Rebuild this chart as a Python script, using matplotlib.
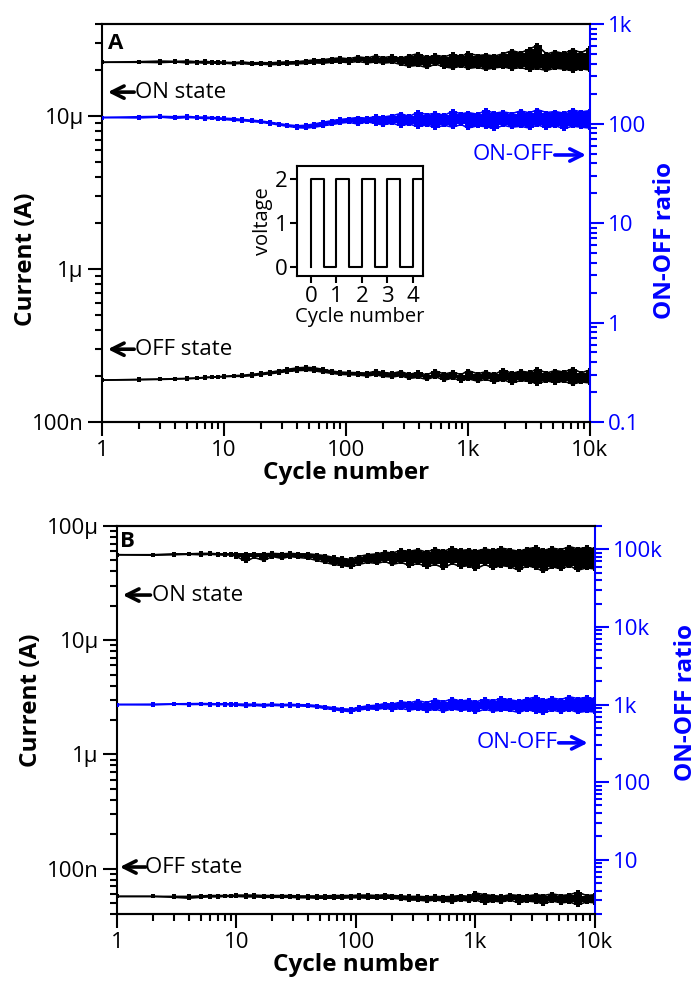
import numpy as np
import matplotlib
matplotlib.use('Agg')
import matplotlib.pyplot as plt
from matplotlib.ticker import FixedLocator, LogLocator, NullFormatter

plt.rcParams['font.family'] = ['Open Sans', 'DejaVu Sans']

BLUE = '#0000ff'

cycles = [1, 2, 3, 4, 5, 6, 7, 8, 9, 10, 12, 14, 17, 20, 24, 28, 33, 40, 47, 55,
          65, 77, 90, 105, 125, 150, 175, 200, 240, 280, 330, 390, 460, 540, 640,
          750, 880, 1000, 1200, 1400, 1650, 1950, 2300, 2700, 3200, 3700, 4400,
          5200, 6100, 7200, 8500, 10000]

# panel A: ON current (uA), lower / upper edge of the noisy trace
a_on_lo = [22.5, 22.5, 22.4, 22.6, 22.3, 22.4, 22.2, 22.3, 22.1, 22.2, 22.0, 22.1,
           21.8, 21.9, 21.7, 21.8, 21.9, 22.0, 22.1, 22.3, 22.2, 22.5, 22.6, 22.4,
           22.8, 22.3, 22.6, 22.2, 22.5, 21.8, 21.2, 21.5, 20.8, 21.9, 21.0, 20.6,
           21.3, 20.5, 20.9, 20.2, 20.7, 21.0, 20.4, 20.8, 20.1, 20.5, 19.9, 20.6,
           20.3, 19.8, 20.4, 20.0]
a_on_hi = [22.5, 22.7, 22.9, 22.8, 22.9, 22.7, 22.8, 22.6, 22.7, 22.5, 22.4, 22.6,
           22.3, 22.4, 22.3, 22.5, 22.6, 22.7, 23.0, 23.3, 23.4, 23.8, 24.0, 23.7,
           24.4, 24.0, 24.8, 24.1, 24.6, 23.9, 24.8, 25.6, 24.2, 25.0, 24.5, 25.3,
           24.6, 25.8, 24.9, 25.2, 24.7, 25.6, 26.8, 25.9, 27.5, 29.0, 25.5, 26.4,
           25.7, 27.2, 26.0, 27.8]
# panel A: OFF current (nA)
a_off_lo = [188, 189, 190, 191, 192, 193, 195, 196, 197, 198, 199, 199, 201, 204,
            207, 210, 214, 217, 218, 216, 212, 208, 205, 204, 203, 200, 204, 199,
            197, 201, 193, 196, 190, 198, 188, 194, 186, 192, 185, 190, 183, 189,
            180, 187, 184, 178, 186, 181, 185, 177, 183, 180]
a_off_hi = [188, 190, 191, 192, 193, 194, 196, 197, 198, 199, 201, 202, 205, 208,
            212, 216, 221, 226, 228, 226, 221, 215, 212, 211, 210, 209, 215, 211,
            208, 214, 205, 211, 203, 216, 206, 212, 204, 217, 207, 213, 205, 219,
            208, 215, 211, 222, 209, 217, 212, 223, 210, 219]
# panel A: ON-OFF ratio
a_ratio_lo = [115, 114, 116, 113, 115, 114, 112, 113, 111, 110, 108, 107, 105, 103,
              100, 97, 94, 91, 90, 92, 95, 98, 101, 103, 99, 104, 100, 97, 101, 95,
              99, 93, 97, 91, 96, 92, 98, 90, 95, 93, 89, 96, 92, 94, 90, 97, 91,
              95, 89, 94, 92, 90]
a_ratio_hi = [115, 117, 118, 117, 118, 116, 116, 115, 114, 113, 112, 110, 108, 106,
              103, 100, 97, 95, 96, 99, 103, 107, 110, 112, 115, 113, 118, 116, 120,
              126, 118, 130, 123, 127, 121, 133, 125, 129, 124, 136, 127, 131, 126,
              134, 128, 138, 129, 132, 127, 137, 131, 135]

# panel B: ON current (uA)
b_on_lo = [56, 55.5, 56, 56.5, 56, 56.5, 56, 55.5, 56, 54, 49, 53, 50, 54, 52, 54,
           53, 52, 50, 48, 46, 45, 44, 46, 48, 47, 49, 46, 48, 45, 47, 44, 46, 43,
           47, 44, 45, 42, 46, 43, 45, 44, 41, 45, 43, 40, 44, 42, 45, 41, 43, 42]
b_on_hi = [56, 56, 57, 57, 57.5, 57.5, 57, 57, 57, 57, 57, 57, 57, 57.5, 57, 57.5,
           57, 57, 56, 55, 53, 52, 51, 54, 56, 57, 59, 58, 61, 60, 62, 59, 63, 60,
           64, 61, 62, 60, 63, 61, 64, 62, 60, 63, 65, 61, 64, 62, 66, 63, 65, 63]
# panel B: OFF current (nA)
b_off_lo = [57, 57, 56, 55, 56, 56.5, 56.5, 57, 57, 57, 56.5, 56.5, 56, 56, 56, 56,
            55.5, 55.5, 55, 55, 55, 55, 55.5, 55.5, 55, 55, 55, 55, 54, 53, 53, 52,
            53, 52, 51, 53, 52, 53, 50, 52, 51, 53, 50, 52, 51, 49, 52, 50, 51, 48,
            51, 50]
b_off_hi = [57, 57, 57, 57, 57.5, 58, 58, 58, 58, 58.5, 58.5, 58.5, 58, 58, 58, 58,
            57.5, 57.5, 57.5, 57.5, 58, 58, 58, 58.5, 58.5, 58, 59, 58, 57.5, 57,
            57, 56.5, 57, 56.5, 57, 58, 57, 61, 59, 58, 57, 59, 58, 57.5, 59, 58,
            60, 58, 59, 62, 58, 59]
# panel B: ON-OFF ratio
b_ratio_lo = [1000, 990, 1010, 1000, 1005, 1000, 995, 1000, 990, 985, 960, 975, 955,
              975, 965, 970, 960, 950, 930, 890, 860, 830, 810, 850, 880, 870, 900,
              860, 890, 850, 880, 830, 870, 820, 880, 840, 860, 800, 870, 820, 850,
              840, 790, 860, 810, 780, 850, 800, 860, 790, 820, 800]
b_ratio_hi = [1000, 1010, 1020, 1025, 1030, 1025, 1020, 1025, 1020, 1015, 1010, 1010,
              1000, 1010, 1000, 1005, 995, 990, 970, 940, 910, 880, 870, 920, 960,
              980, 1030, 1010, 1080, 1050, 1120, 1060, 1150, 1090, 1180, 1110, 1140,
              1080, 1170, 1120, 1200, 1150, 1100, 1180, 1250, 1130, 1210, 1160, 1260,
              1190, 1240, 1180]

# inset square wave
inset_x = [0, 0, 0.5, 0.5, 1, 1, 1.5, 1.5, 2, 2, 2.5, 2.5, 3, 3, 3.5, 3.5, 4, 4, 4.4]
inset_v = [0, 2, 2, 0, 0, 2, 2, 0, 0, 2, 2, 0, 0, 2, 2, 0, 0, 2, 2]

x_ticks = [1, 10, 100, 1000, 10000]
x_labels = ['1', '10', '100', '1k', '10k']

TICK_FS = 16
LABEL_FS = 17.5


def band(ax, lo, hi, scale, color):
    lo = np.array(lo) * scale
    hi = np.array(hi) * scale
    ax.fill_between(cycles, lo, hi, color=color, lw=0, step='mid')
    for s in (lo, hi):
        ax.plot(cycles, s, color=color, lw=1.2, marker='s', ms=3, mew=0)


def style(ax, ax2, ylim, yt, ytl, ylim2, yt2, ytl2):
    ax.set_xscale('log')
    ax.set_yscale('log')
    ax2.set_yscale('log')
    ax.set_xlim(1, 10000)
    ax.set_ylim(*ylim)
    ax2.set_ylim(*ylim2)
    ax.xaxis.set_major_locator(FixedLocator(x_ticks))
    ax.set_xticklabels(x_labels)
    ax.xaxis.set_minor_locator(LogLocator(subs=np.arange(2, 10)))
    ax.xaxis.set_minor_formatter(NullFormatter())
    ax.yaxis.set_major_locator(FixedLocator(yt))
    ax.set_yticklabels(ytl)
    ax.yaxis.set_minor_locator(LogLocator(subs=np.arange(2, 10), numticks=20))
    ax.yaxis.set_minor_formatter(NullFormatter())
    ax2.yaxis.set_major_locator(FixedLocator(yt2))
    ax2.set_yticklabels(ytl2)
    ax2.yaxis.set_minor_locator(LogLocator(subs=np.arange(2, 10), numticks=20))
    ax2.yaxis.set_minor_formatter(NullFormatter())
    for a in (ax, ax2):
        for sp in a.spines.values():
            sp.set_linewidth(1.5)
    ax.spines['right'].set_visible(False)
    ax2.spines['left'].set_visible(False)
    ax2.spines['right'].set_color(BLUE)
    ax.tick_params(axis='both', which='major', direction='out', length=10, width=1.5,
                   labelsize=TICK_FS, pad=3, colors='black')
    ax.tick_params(axis='both', which='minor', direction='out', length=5, width=1.5)
    ax2.tick_params(axis='y', which='major', direction='out', length=10, width=1.5,
                    labelsize=TICK_FS, colors=BLUE, pad=3)
    ax2.tick_params(axis='y', which='minor', direction='out', length=5, width=1.5,
                    colors=BLUE)


def arrow_text(ax, tip, tail, ty, text, tx, ha, color):
    ax.annotate('', xy=(tip, ty), xytext=(tail, ty), xycoords='axes fraction',
                arrowprops=dict(arrowstyle='->', lw=2.6, color=color,
                                mutation_scale=22, shrinkA=0, shrinkB=0))
    ax.text(tx, ty, text, transform=ax.transAxes, ha=ha, va='center',
            fontsize=TICK_FS, color=color)


fig = plt.figure(figsize=(6.98, 9.9), dpi=100)

# ---------------- panel A ----------------
axA = fig.add_axes([0.1461, 0.5737, 0.6991, 0.4020])
axA2 = axA.twinx()
band(axA, a_on_lo, a_on_hi, 1e-6, 'black')
band(axA, a_off_lo, a_off_hi, 1e-9, 'black')
band(axA2, a_ratio_lo, a_ratio_hi, 1, BLUE)
style(axA, axA2, (1e-7, 4e-5), [1e-7, 1e-6, 1e-5], ['100n', '1µ', '10µ'],
      (0.1, 1000), [0.1, 1, 10, 100, 1000], ['0.1', '1', '10', '100', '1k'])
axA.set_xlabel('Cycle number', fontsize=LABEL_FS, fontweight='bold', labelpad=0)
axA.set_ylabel('Current (A)', fontsize=LABEL_FS, fontweight='bold')
axA.yaxis.set_label_coords(-0.131, 0.41)
axA2.set_ylabel('ON-OFF ratio', fontsize=LABEL_FS, fontweight='bold', color=BLUE)
axA2.yaxis.set_label_coords(1.13, 0.455)
axA.text(0.012, 0.952, 'A', transform=axA.transAxes, fontsize=TICK_FS,
         fontweight='bold', va='center', ha='left')
arrow_text(axA, 0.012, 0.066, 0.829, 'ON state', 0.068, 'left', 'black')
arrow_text(axA, 0.012, 0.066, 0.183, 'OFF state', 0.068, 'left', 'black')
arrow_text(axA2, 0.992, 0.928, 0.671, 'ON-OFF', 0.926, 'right', BLUE)

# inset with the voltage pulses
ins = fig.add_axes([0.4255, 0.7212, 0.1805, 0.1111])
ins.plot(inset_x, inset_v, color='black', lw=1.5)
ins.set_xlim(-0.55, 4.4)
ins.set_ylim(-0.2, 2.3)
ins.set_xticks([0, 1, 2, 3, 4])
ins.set_yticks([0, 1, 2])
ins.tick_params(direction='out', length=5, width=1.5, labelsize=TICK_FS, pad=2)
for sp in ins.spines.values():
    sp.set_linewidth(1.5)
ins.set_xlabel('Cycle number', fontsize=14.5, labelpad=0)
ins.set_ylabel('voltage', fontsize=14.5, labelpad=1)

# ---------------- panel B ----------------
axB = fig.add_axes([0.1676, 0.0768, 0.6848, 0.3919])
axB2 = axB.twinx()
band(axB, b_on_lo, b_on_hi, 1e-6, 'black')
band(axB, b_off_lo, b_off_hi, 1e-9, 'black')
band(axB2, b_ratio_lo, b_ratio_hi, 1, BLUE)
style(axB, axB2, (4e-8, 1e-4), [1e-7, 1e-6, 1e-5, 1e-4], ['100n', '1µ', '10µ', '100µ'],
      (2, 2e5), [10, 100, 1000, 1e4, 1e5], ['10', '100', '1k', '10k', '100k'])
axB.set_xlabel('Cycle number', fontsize=LABEL_FS, fontweight='bold', labelpad=0)
axB.set_ylabel('Current (A)', fontsize=LABEL_FS, fontweight='bold')
axB.yaxis.set_label_coords(-0.155, 0.55)
axB2.set_ylabel('ON-OFF ratio', fontsize=LABEL_FS, fontweight='bold', color=BLUE)
axB2.yaxis.set_label_coords(1.165, 0.544)
axB.text(0.006, 0.961, 'B', transform=axB.transAxes, fontsize=TICK_FS,
         fontweight='bold', va='center', ha='left')
arrow_text(axB, 0.012, 0.070, 0.822, 'ON state', 0.073, 'left', 'black')
arrow_text(axB, 0.006, 0.060, 0.121, 'OFF state', 0.059, 'left', 'black')
arrow_text(axB2, 0.985, 0.924, 0.441, 'ON-OFF', 0.922, 'right', BLUE)

fig.savefig('out.png', dpi=100)
